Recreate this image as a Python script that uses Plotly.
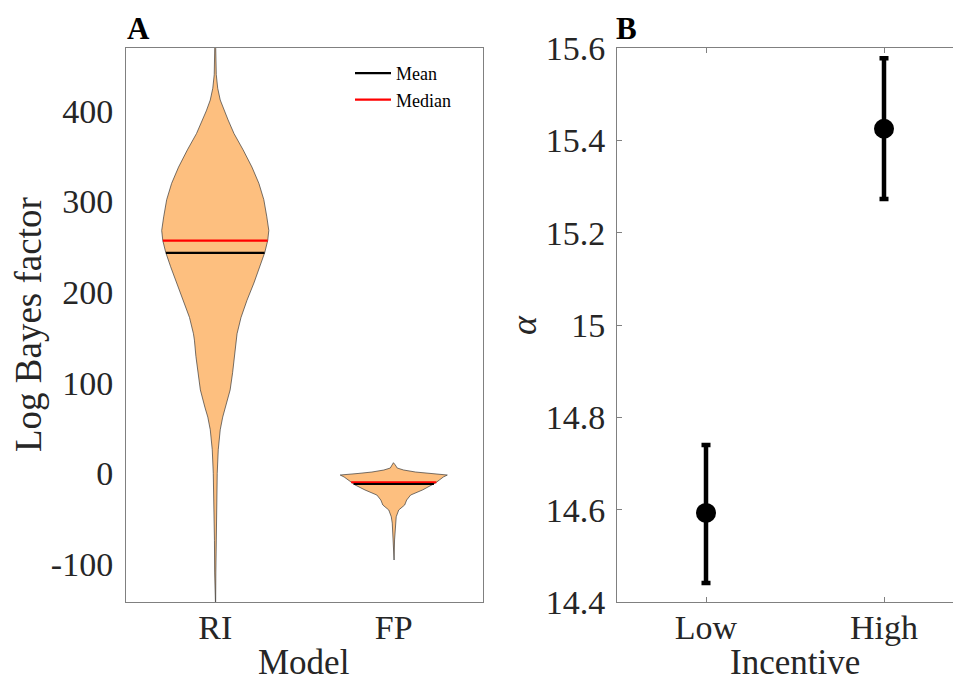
import numpy as np
import plotly.graph_objects as go

# ---------------- data ----------------
models = ["RI", "FP"]
# violin outlines: value levels and normalised density
ri_levels = [480, 469, 440, 425, 412, 400, 390, 375, 357, 338, 320, 302, 283, 268, 257, 244, 228, 210,
             191, 172, 154, 147, 129, 111, 92, 73, 62, 48, 26, 0, -38, -74, -110, -150]
ri_density = [0.006, 0.009, 0.019, 0.046, 0.093, 0.167, 0.24, 0.35, 0.52, 0.685, 0.815, 0.907, 0.963, 1.0,
              0.98, 0.926, 0.833, 0.722, 0.593, 0.481, 0.407, 0.389, 0.361, 0.324, 0.278, 0.194, 0.139,
              0.093, 0.056, 0.037, 0.022, 0.015, 0.011, 0.007]
fp_levels = [11.7, 9.2, 5.8, 3.6, 1.4, -0.2, -1.9, -4.1, -7.4, -10.7, -12.9, -18.4, -24, -29.5, -35,
             -40.5, -48, -55, -73.6, -95.7]
fp_density = [0.006, 0.028, 0.065, 0.185, 0.407, 0.667, 1.0, 0.926, 0.852, 0.778, 0.722, 0.537, 0.315,
              0.241, 0.204, 0.093, 0.046, 0.028, 0.015, 0.006]
means = [243.2, -11.8]
medians = [256.7, -9.9]

incentive = ["Low", "High"]
alpha_mean = [14.593, 15.425]
alpha_lower = [14.441, 15.273]
alpha_upper = [14.740, 15.578]

left_ticks = [-100, 0, 100, 200, 300, 400]
left_ticktext = ["-100", "0", "100", "200", "300", "400"]
right_ticks = [14.4, 14.6, 14.8, 15.0, 15.2, 15.4, 15.6]
right_ticktext = ["14.4", "14.6", "14.8", "15", "15.2", "15.4", "15.6"]

# ---------------- style ----------------
OFF = 8                      # page body margin of the html page
W, H = 961 - OFF, 683 - OFF  # figure size so that it ends at the window edge
FONT = "Liberation Serif, Times New Roman, serif"
TXT = "#262626"
AXC = "#808080"
FILL = "rgb(253,191,127)"
HALF = 0.30  # max half width of violins in axis units


def px(x):   # window x pixel -> paper x
    return (x - OFF) / W


def py(y):   # window y pixel -> paper y
    return 1 - (y - OFF) / H


fig = go.Figure()

profiles = [(ri_levels, ri_density), (fp_levels, fp_density)]
for i, (lv, dn) in enumerate(profiles):
    c = i + 1
    lv = np.array(lv, float)
    dn = np.array(dn, float)
    xs = np.concatenate([c - HALF * dn, (c + HALF * dn)[::-1], [c - HALF * dn[0]]])
    ys = np.concatenate([lv, lv[::-1], [lv[0]]])
    fig.add_trace(go.Scatter(x=xs, y=ys, mode="lines", fill="toself", fillcolor=FILL,
                             line=dict(color="#3a3a3a", width=0.7), showlegend=False,
                             hoverinfo="skip", xaxis="x", yaxis="y"))

for i, (lv, dn) in enumerate(profiles):
    c = i + 1
    order = np.argsort(lv)
    lv_s = np.array(lv, float)[order]
    dn_s = np.array(dn, float)[order]
    for val, col, name in [(medians[i], "#ff0000", "Median"), (means[i], "#000000", "Mean")]:
        hw = HALF * np.interp(val, lv_s, dn_s)
        fig.add_trace(go.Scatter(x=[c - hw, c + hw], y=[val, val], mode="lines",
                                 line=dict(color=col, width=2.2), name=name,
                                 legendgroup=name, showlegend=(i == 0),
                                 legendrank=(1 if name == "Mean" else 2),
                                 xaxis="x", yaxis="y"))

xpos = [1, 2]
err_up = [u - m for u, m in zip(alpha_upper, alpha_mean)]
err_dn = [m - l for m, l in zip(alpha_mean, alpha_lower)]
fig.add_trace(go.Scatter(x=xpos, y=alpha_mean, mode="markers",
                         marker=dict(size=20, color="black", symbol="circle"),
                         error_y=dict(type="data", symmetric=False, array=err_up, arrayminus=err_dn,
                                      color="black", thickness=4.5, width=4.5),
                         showlegend=False, xaxis="x2", yaxis="y2"))

ydom = [py(602), py(48)]
tickfont = dict(family=FONT, size=34, color=TXT)

common = dict(showline=True, linecolor=AXC, linewidth=1, showgrid=False, zeroline=False,
              automargin=False)

fig.update_layout(
    width=W, height=H, autosize=False,
    margin=dict(l=0, r=0, t=0, b=0, autoexpand=False),
    paper_bgcolor="white", plot_bgcolor="white",
    font=dict(family=FONT, color=TXT),
    xaxis=dict(domain=[px(126), px(483)], range=[0.5, 2.5], tickvals=[1, 2], ticktext=models,
               mirror=True, ticks="", tickfont=tickfont, ticklabelstandoff=-5, **common),
    yaxis=dict(domain=ydom, range=[-142.05, 469.4], tickvals=left_ticks, ticktext=left_ticktext,
               mirror=True, ticks="", tickfont=tickfont, ticklabelstandoff=5, **common),
    xaxis2=dict(domain=[px(617), 1.0], range=[0.5, 2.4326], tickvals=xpos, ticktext=incentive,
                mirror="ticks", ticks="inside", ticklen=5, tickcolor=AXC, tickfont=tickfont,
                anchor="y2", ticklabelstandoff=-5, **common),
    yaxis2=dict(domain=ydom, range=[14.4, 15.6], tickvals=right_ticks, ticktext=right_ticktext,
                mirror="ticks", ticks="inside", ticklen=5, tickcolor=AXC, tickfont=tickfont,
                anchor="x2", ticklabelstandoff=4, **common),
    legend=dict(x=px(350), y=py(55), xanchor="left", yanchor="top",
                bgcolor="rgba(0,0,0,0)", borderwidth=0, font=dict(family=FONT, size=18, color="black"),
                tracegroupgap=0, itemwidth=36),
    showlegend=True,
)

ann = [
    dict(text="<b>A</b>", x=px(125), y=py(28), xanchor="left", yanchor="middle",
         font=dict(family=FONT, size=31, color="black")),
    dict(text="<b>B</b>", x=px(614), y=py(28), xanchor="left", yanchor="middle",
         font=dict(family=FONT, size=31, color="black")),
    dict(text="Log Bayes factor", x=px(28), y=py(325), xanchor="center", yanchor="middle",
         textangle=-90, font=dict(family=FONT, size=37, color=TXT)),
    dict(text="<i>α</i>", x=px(524), y=py(325), xanchor="center", yanchor="middle",
         textangle=-90, font=dict(family=FONT, size=36, color=TXT)),
    dict(text="Model", x=px(304), y=py(683), xanchor="center", yanchor="bottom", yshift=-1,
         font=dict(family=FONT, size=35, color=TXT)),
    dict(text="Incentive", x=px(795), y=py(683), xanchor="center", yanchor="bottom", yshift=-1,
         font=dict(family=FONT, size=35, color=TXT)),
]
for a in ann:
    a.update(xref="paper", yref="paper", showarrow=False)
fig.update_layout(annotations=ann)

fig.write_html("out.html")
